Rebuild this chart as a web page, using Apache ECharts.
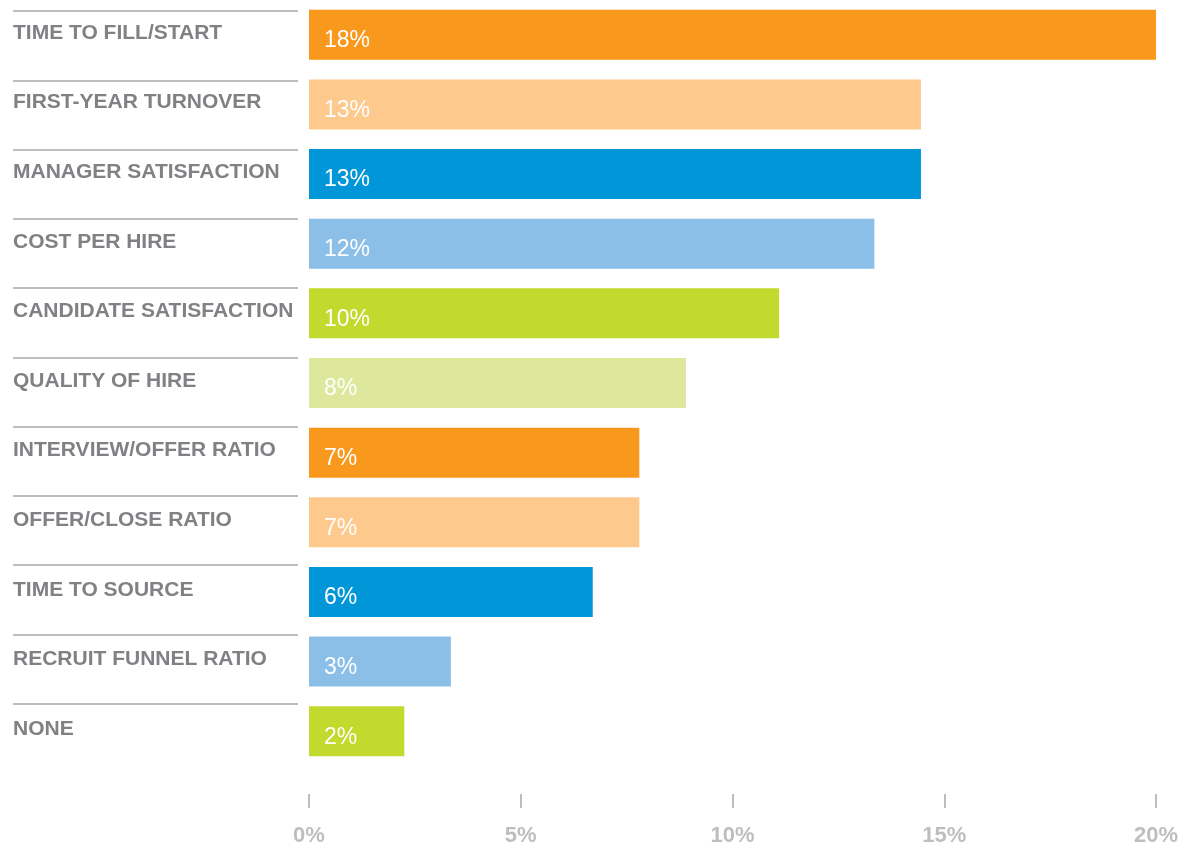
<!DOCTYPE html>
<html>
<head>
<meta charset="utf-8">
<script src="https://cdn.jsdelivr.net/npm/echarts@6/dist/echarts.min.js"></script>
<style>
  html, body { margin: 0; padding: 0; background: #fff; }
  #chart { width: 1201px; height: 847px; }
</style>
</head>
<body>
<div id="chart"></div>
<script>
// categories top to bottom
var categories = ['TIME TO FILL/START', 'FIRST-YEAR TURNOVER', 'MANAGER SATISFACTION', 'COST PER HIRE',
  'CANDIDATE SATISFACTION', 'QUALITY OF HIRE', 'INTERVIEW/OFFER RATIO', 'OFFER/CLOSE RATIO',
  'TIME TO SOURCE', 'RECRUIT FUNNEL RATIO', 'NONE']
// bar lengths as drawn against the axis
var barValues = [20, 14.45, 14.45, 13.35, 11.1, 8.9, 7.8, 7.8, 6.7, 3.35, 2.25]
// printed percentages inside the bars
var barLabels = [18, 13, 13, 12, 10, 8, 7, 7, 6, 3, 2]
var barColors = ['#F8991D', '#FEC98C', '#0096D8', '#8BBFE8', '#C2D92D', '#DDE89D',
  '#F8991D', '#FEC98C', '#0096D8', '#8BBFE8', '#C2D92D']
var xTicks = [0, 5, 10, 15, 20]

var chart = echarts.init(document.getElementById('chart'))
var option = {
  backgroundColor: '#fff',
  animation: false,
  grid: [
    { left: 309, right: 45, top: 0, height: 766 },
    // separator lines behind the labels
    { left: 13, right: 903, top: 11, height: 762 }
  ],
  xAxis: [
    {
      gridIndex: 0,
      type: 'value',
      min: xTicks[0],
      max: xTicks[xTicks.length - 1],
      interval: 5,
      offset: 28,
      axisLine: { show: false },
      axisTick: { show: true, inside: false, length: 14, lineStyle: { color: '#BCBEC0', width: 2 } },
      splitLine: { show: false },
      axisLabel: {
        margin: 31,
        color: '#BCBEC0',
        fontSize: 22,
        fontWeight: 'bold',
        fontFamily: 'Liberation Sans, sans-serif',
        formatter: function (v) { return v + '%' }
      }
    },
    { gridIndex: 1, type: 'value', show: false, min: 0, max: 1 }
  ],
  yAxis: [
    {
      gridIndex: 0,
      type: 'category',
      inverse: true,
      data: categories,
      axisLine: { show: false },
      axisTick: { show: false },
      axisLabel: {
        align: 'left',
        verticalAlign: 'bottom',
        lineHeight: 4,
        margin: 296,
        color: '#808184',
        fontWeight: 'bold',
        fontSize: 21,
        fontFamily: 'Liberation Sans, sans-serif'
      }
    },
    {
      gridIndex: 1,
      type: 'category',
      inverse: true,
      data: categories,
      axisLine: { show: false },
      axisTick: { show: false },
      axisLabel: { show: false },
      splitLine: {
        show: true,
        showMinLine: true,
        showMaxLine: false,
        lineStyle: { color: '#BCBEC0', width: 2 }
      }
    }
  ],
  series: [
    {
      type: 'bar',
      xAxisIndex: 0,
      yAxisIndex: 0,
      barWidth: 50,
      data: barValues.map(function (v, i) {
        return { value: v, itemStyle: { color: barColors[i] } }
      }),
      label: {
        show: true,
        position: 'insideLeft',
        distance: 15,
        offset: [0, 6],
        color: '#fff',
        fontSize: 23,
        fontFamily: 'Liberation Sans, sans-serif',
        formatter: function (p) { return barLabels[p.dataIndex] + '%' }
      }
    }
  ]
}
chart.setOption(option)
</script>
</body>
</html>
